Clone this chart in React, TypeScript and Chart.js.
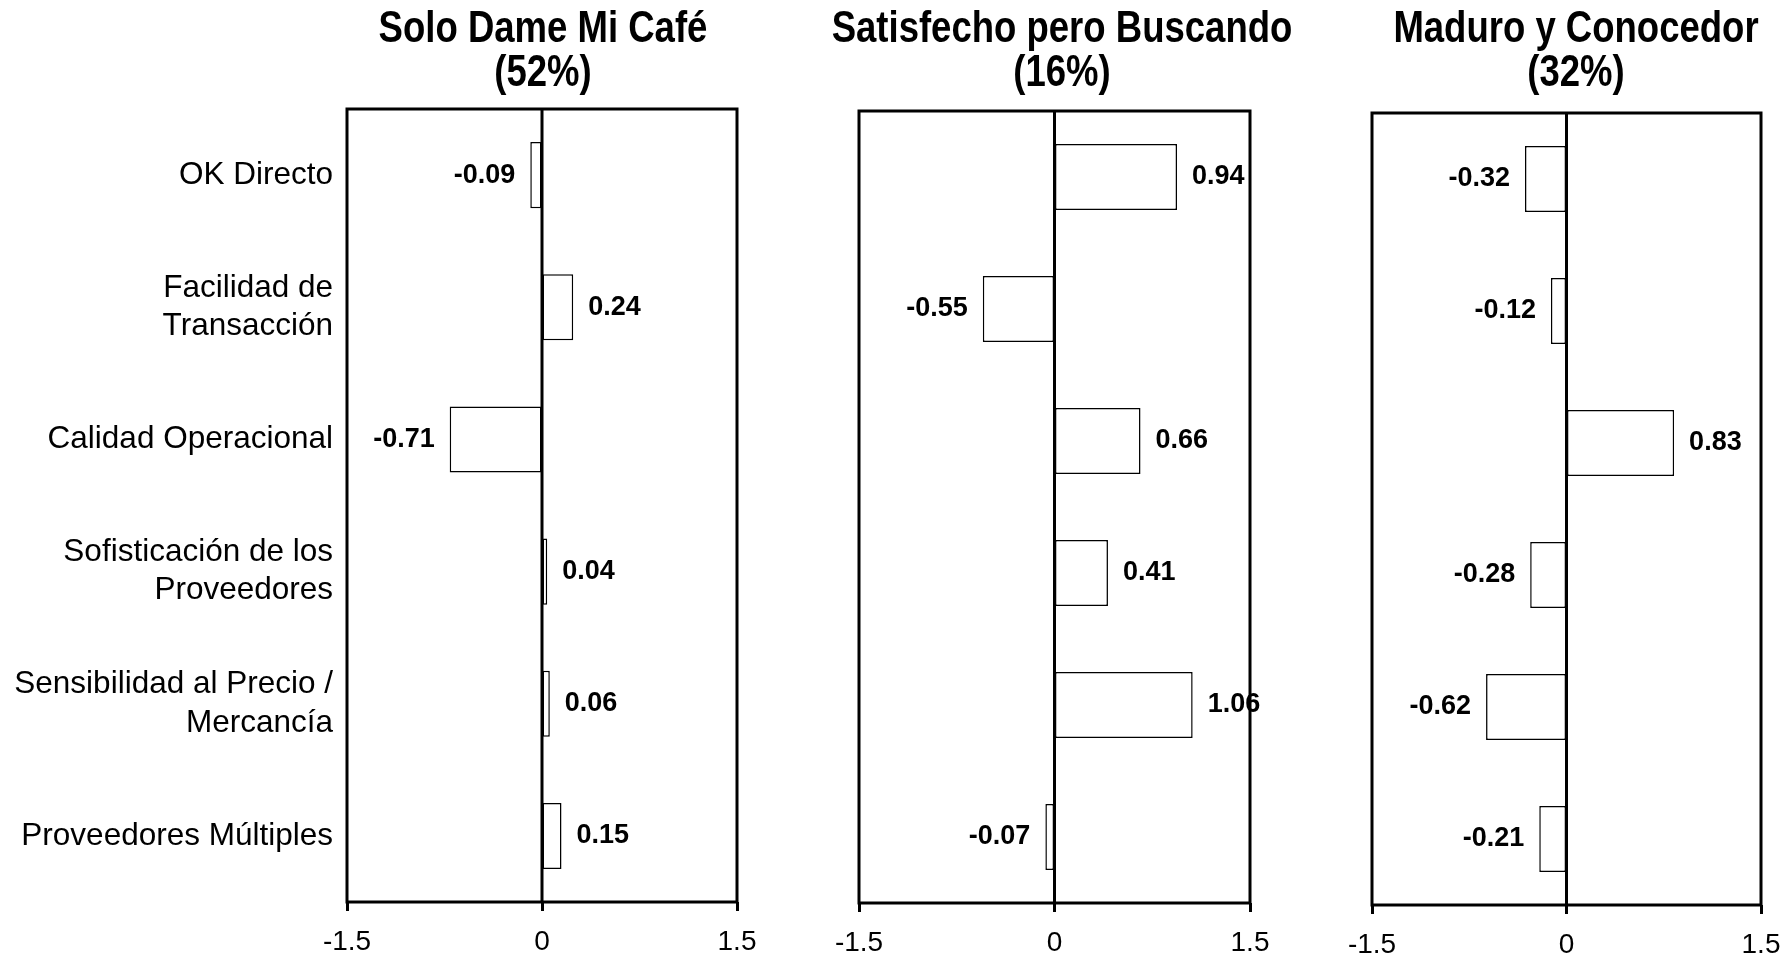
import React, { useEffect, useRef } from "react";
import { Chart, registerables } from "chart.js";

Chart.register(...registerables);

const FONT = '"Liberation Sans", Arial, Helvetica, sans-serif';

// ---- data ----
const categories: (string | string[])[] = [
  "OK Directo",
  ["Facilidad de", "Transacción"],
  "Calidad Operacional",
  ["Sofisticación de los", "Proveedores"],
  ["Sensibilidad al Precio /", "Mercancía"],
  "Proveedores Múltiples",
];
const segmentTitles = ["Solo Dame Mi Café", "Satisfecho pero Buscando", "Maduro y Conocedor"];
const segmentShares = ["(52%)", "(16%)", "(32%)"];
const soloDameValues = [-0.09, 0.24, -0.71, 0.04, 0.06, 0.15];
const satisfechoValues = [0.94, -0.55, 0.66, 0.41, 1.06, -0.07];
const maduroValues = [-0.32, -0.12, 0.83, -0.28, -0.62, -0.21];
const xTickValues = [-1.5, 0, 1.5];
const xTickLabels = ["-1.5", "0", "1.5"];

type PanelProps = {
  values: number[];
  title: string;
  share: string;
  showLabels: boolean;
  left: number;
  width: number;
  padL: number;
  padR: number;
  top: number;
  bottom: number;
  titleCx: number;
};

function Panel(p: PanelProps) {
  const ref = useRef<HTMLCanvasElement | null>(null);
  useEffect(() => {
    if (!ref.current) return;
    const H = 956;
    const panelPlugin = {
      id: "panelDecor",
      afterDatasetsDraw(chart: any) {
        const ctx = chart.ctx;
        const a = chart.chartArea;
        const xs = chart.scales.x;
        ctx.save();
        // zero line
        ctx.strokeStyle = "#000";
        ctx.lineWidth = 3;
        const x0 = xs.getPixelForValue(0);
        ctx.beginPath();
        ctx.moveTo(x0, a.top);
        ctx.lineTo(x0, a.bottom);
        ctx.stroke();
        // frame
        ctx.strokeRect(a.left, a.top, a.right - a.left, a.bottom - a.top);
        // value labels
        const meta = chart.getDatasetMeta(0);
        ctx.fillStyle = "#000";
        ctx.font = `bold 27px ${FONT}`;
        ctx.textBaseline = "middle";
        meta.data.forEach((el: any, i: number) => {
          const v = p.values[i];
          const txt = v.toFixed(2);
          if (v >= 0) {
            ctx.textAlign = "left";
            ctx.fillText(txt, el.x + 15, el.y);
          } else {
            ctx.textAlign = "right";
            ctx.fillText(txt, el.x - 15, el.y);
          }
        });
        // title
        ctx.font = `bold 44px ${FONT}`;
        ctx.textAlign = "center";
        ctx.textBaseline = "alphabetic";
        ctx.translate(p.titleCx - p.left, 0);
        ctx.scale(0.83, 1);
        ctx.fillText(p.title, 0, 42);
        ctx.fillText(p.share, 0, 86);
        ctx.restore();
      },
    };

    const chart = new Chart(ref.current, {
      type: "bar",
      data: {
        labels: categories,
        datasets: [
          {
            data: p.values,
            backgroundColor: "#ffffff",
            borderColor: "#000000",
            borderWidth: 1.5,
            borderSkipped: false,
            barPercentage: 0.5,
            categoryPercentage: 1,
          },
        ],
      },
      options: {
        indexAxis: "y",
        responsive: false,
        animation: false,
        devicePixelRatio: 1,
        layout: { padding: { left: p.padL, right: p.padR, top: p.top, bottom: 0 } },
        plugins: { legend: { display: false }, tooltip: { enabled: false }, title: { display: false } },
        scales: {
          x: {
            type: "linear",
            min: -1.5,
            max: 1.5,
            afterBuildTicks: (s: any) => {
              s.ticks = xTickValues.map((v) => ({ value: v }));
            },
            afterFit: (s: any) => {
              s.height = H - p.bottom;
              s.paddingLeft = 0;
              s.paddingRight = 0;
            },
            grid: {
              display: true,
              drawOnChartArea: false,
              drawTicks: true,
              tickLength: 9,
              tickColor: "#000",
              tickWidth: 3,
            },
            border: { display: false },
            ticks: {
              padding: 14,
              color: "#000",
              font: { family: FONT, size: 28 },
              maxRotation: 0,
              callback: (v: any) => {
                const i = xTickValues.indexOf(Number(v));
                return i >= 0 ? xTickLabels[i] : "";
              },
            },
          },
          y: {
            display: p.showLabels,
            afterFit: (s: any) => {
              if (p.showLabels) s.width = 347 - p.padL;
              s.paddingTop = 0;
              s.paddingBottom = 0;
            },
            grid: { display: false, drawTicks: false },
            border: { display: false },
            ticks: {
              padding: 14,
              color: "#000",
              font: { family: FONT, size: 31.5, lineHeight: 1.22 },
            },
          },
        },
      },
      plugins: [panelPlugin],
    } as any);
    return () => chart.destroy();
  }, []);
  return (
    <div style={{ position: "absolute", left: p.left, top: 0, width: p.width, height: 956 }}>
      <canvas ref={ref} width={p.width} height={956} style={{ width: p.width, height: 956, display: "block" }} />
    </div>
  );
}

export default function App() {
  useEffect(() => {
    document.body.style.margin = "0";
    document.body.style.background = "#fff";
  }, []);
  return (
    <div style={{ position: "absolute", left: 0, top: 0, width: 1788, height: 956, background: "#fff", overflow: "hidden" }}>
      <Panel values={soloDameValues} title={segmentTitles[0]} share={segmentShares[0]} showLabels={true}
        left={0} width={760} padL={0} padR={23} top={109} bottom={902} titleCx={543} />
      <Panel values={satisfechoValues} title={segmentTitles[1]} share={segmentShares[1]} showLabels={false}
        left={740} width={620} padL={119} padR={110} top={111} bottom={903} titleCx={1062} />
      <Panel values={maduroValues} title={segmentTitles[2]} share={segmentShares[2]} showLabels={false}
        left={1300} width={488} padL={72} padR={27} top={113} bottom={905} titleCx={1576} />
    </div>
  );
}
